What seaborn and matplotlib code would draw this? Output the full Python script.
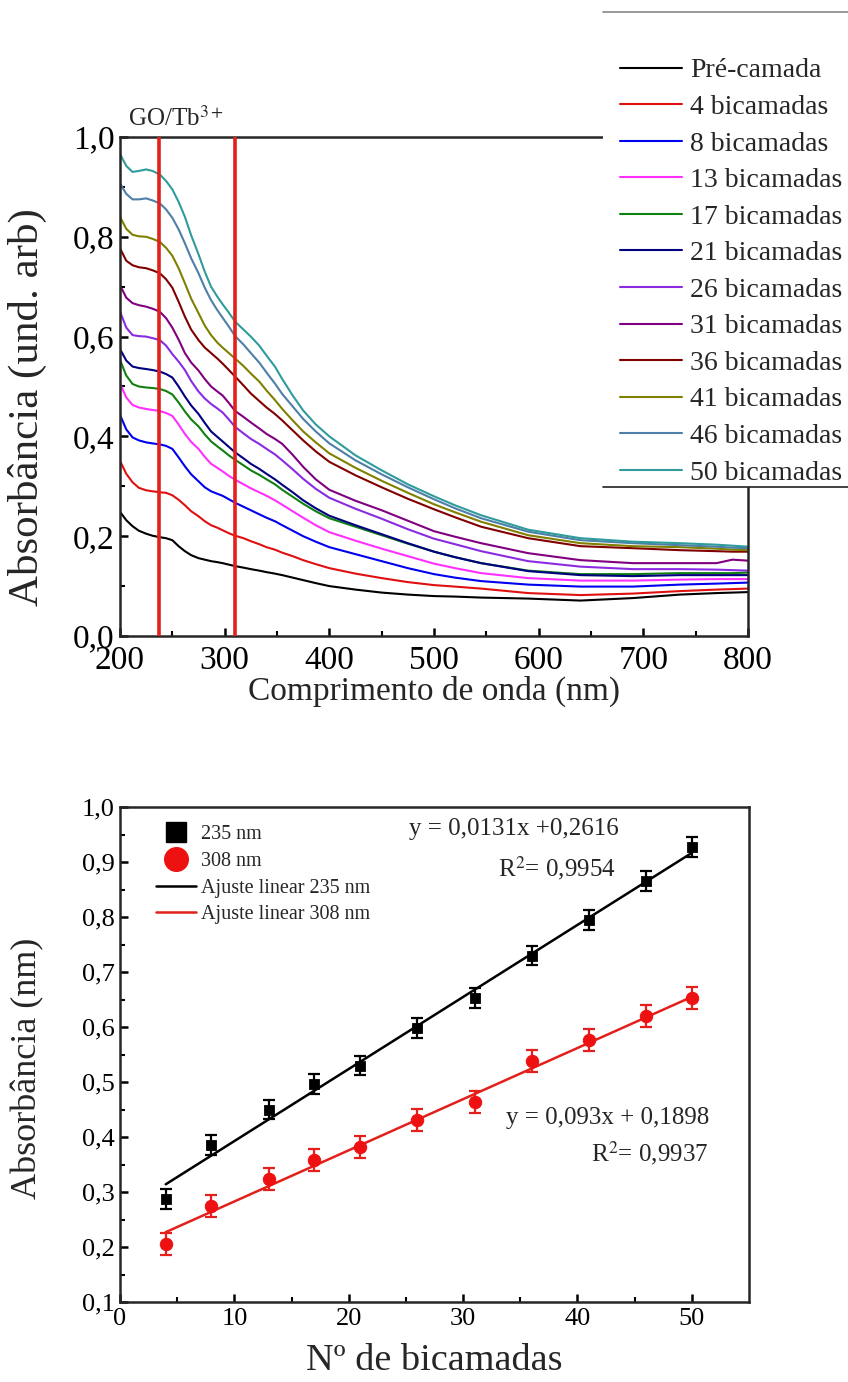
import numpy as np
import pandas as pd
import matplotlib
matplotlib.use("Agg")
import matplotlib.pyplot as plt
from matplotlib.lines import Line2D
from matplotlib.patches import Rectangle
import seaborn as sns

# ---------------- UV-Vis spectra of the GO/Tb3+ LbL films ----------------
wavelength = [200, 206, 212, 218, 225, 231, 238,
              244, 250, 256, 262, 268, 275, 281,
              287, 293, 298, 304, 310, 318, 325,
              333, 340, 348, 355, 365, 375, 387,
              400, 425, 450, 475, 500, 520, 545,
              590, 640, 690, 735, 770, 785, 800]

abs_pre = [0.249, 0.232, 0.220, 0.211, 0.205, 0.201, 0.198,
           0.196, 0.192, 0.180, 0.170, 0.162, 0.156, 0.153,
           0.150, 0.148, 0.146, 0.143, 0.140, 0.137, 0.134,
           0.131, 0.128, 0.125, 0.122, 0.117, 0.112, 0.106,
           0.100, 0.093, 0.087, 0.083, 0.080, 0.079, 0.077,
           0.075, 0.071, 0.076, 0.083, 0.086, 0.087, 0.088]
abs_4 = [0.351, 0.325, 0.308, 0.297, 0.292, 0.290, 0.288,
         0.287, 0.282, 0.273, 0.262, 0.250, 0.240, 0.230,
         0.222, 0.217, 0.212, 0.206, 0.201, 0.196, 0.190,
         0.184, 0.178, 0.173, 0.167, 0.160, 0.152, 0.144,
         0.136, 0.125, 0.116, 0.108, 0.102, 0.099, 0.095,
         0.086, 0.082, 0.085, 0.090, 0.093, 0.094, 0.095]
abs_8 = [0.443, 0.414, 0.398, 0.392, 0.388, 0.386, 0.384,
         0.381, 0.375, 0.358, 0.340, 0.324, 0.310, 0.298,
         0.290, 0.285, 0.281, 0.274, 0.267, 0.259, 0.252,
         0.244, 0.237, 0.230, 0.222, 0.211, 0.200, 0.189,
         0.178, 0.164, 0.150, 0.136, 0.124, 0.117, 0.110,
         0.103, 0.099, 0.099, 0.103, 0.105, 0.106, 0.107]
abs_13 = [0.506, 0.478, 0.463, 0.458, 0.455, 0.453, 0.451,
          0.447, 0.441, 0.424, 0.405, 0.389, 0.375, 0.359,
          0.345, 0.337, 0.330, 0.321, 0.313, 0.304, 0.296,
          0.288, 0.281, 0.272, 0.263, 0.250, 0.237, 0.222,
          0.208, 0.191, 0.175, 0.160, 0.145, 0.136, 0.126,
          0.116, 0.111, 0.111, 0.113, 0.114, 0.114, 0.114]
abs_17 = [0.553, 0.522, 0.505, 0.500, 0.498, 0.497, 0.495,
          0.491, 0.484, 0.468, 0.450, 0.434, 0.420, 0.404,
          0.390, 0.380, 0.372, 0.362, 0.353, 0.342, 0.332,
          0.323, 0.314, 0.304, 0.293, 0.279, 0.265, 0.250,
          0.236, 0.219, 0.202, 0.185, 0.169, 0.158, 0.146,
          0.131, 0.124, 0.124, 0.126, 0.126, 0.126, 0.127]
abs_21 = [0.575, 0.552, 0.540, 0.537, 0.535, 0.533, 0.530,
          0.525, 0.518, 0.500, 0.480, 0.462, 0.445, 0.427,
          0.410, 0.399, 0.390, 0.379, 0.368, 0.356, 0.345,
          0.335, 0.325, 0.314, 0.303, 0.288, 0.272, 0.256,
          0.241, 0.222, 0.204, 0.186, 0.169, 0.158, 0.146,
          0.130, 0.122, 0.120, 0.122, 0.122, 0.122, 0.122]
abs_26 = [0.650, 0.618, 0.603, 0.601, 0.600, 0.597, 0.593,
          0.582, 0.565, 0.550, 0.533, 0.511, 0.490, 0.476,
          0.465, 0.456, 0.448, 0.434, 0.419, 0.406, 0.395,
          0.385, 0.375, 0.364, 0.352, 0.334, 0.315, 0.295,
          0.277, 0.255, 0.235, 0.214, 0.195, 0.184, 0.170,
          0.150, 0.139, 0.134, 0.134, 0.133, 0.132, 0.131]
abs_31 = [0.703, 0.678, 0.667, 0.663, 0.660, 0.656, 0.650,
          0.637, 0.618, 0.594, 0.567, 0.548, 0.532, 0.515,
          0.500, 0.490, 0.482, 0.467, 0.451, 0.439, 0.428,
          0.416, 0.405, 0.395, 0.385, 0.363, 0.339, 0.314,
          0.293, 0.271, 0.252, 0.231, 0.210, 0.199, 0.186,
          0.166, 0.152, 0.146, 0.146, 0.146, 0.153, 0.151]
abs_36 = [0.777, 0.752, 0.743, 0.739, 0.737, 0.733, 0.727,
          0.715, 0.698, 0.670, 0.640, 0.614, 0.593, 0.578,
          0.567, 0.556, 0.546, 0.533, 0.520, 0.502, 0.486,
          0.471, 0.458, 0.445, 0.432, 0.412, 0.392, 0.370,
          0.349, 0.322, 0.298, 0.275, 0.254, 0.238, 0.219,
          0.196, 0.180, 0.176, 0.172, 0.170, 0.169, 0.169]
abs_41 = [0.840, 0.816, 0.804, 0.801, 0.800, 0.796, 0.790,
          0.778, 0.762, 0.737, 0.707, 0.676, 0.647, 0.622,
          0.603, 0.588, 0.578, 0.567, 0.556, 0.541, 0.526,
          0.510, 0.492, 0.473, 0.455, 0.432, 0.410, 0.388,
          0.366, 0.337, 0.311, 0.287, 0.264, 0.248, 0.229,
          0.202, 0.186, 0.180, 0.178, 0.175, 0.173, 0.172]
abs_46 = [0.907, 0.886, 0.875, 0.875, 0.877, 0.873, 0.867,
          0.855, 0.838, 0.815, 0.787, 0.757, 0.727, 0.698,
          0.673, 0.653, 0.638, 0.620, 0.601, 0.584, 0.567,
          0.548, 0.528, 0.506, 0.485, 0.460, 0.435, 0.410,
          0.386, 0.352, 0.324, 0.298, 0.274, 0.256, 0.236,
          0.209, 0.192, 0.186, 0.182, 0.179, 0.177, 0.176]
abs_50 = [0.966, 0.942, 0.930, 0.932, 0.935, 0.932, 0.925,
          0.912, 0.895, 0.870, 0.840, 0.803, 0.765, 0.730,
          0.700, 0.680, 0.665, 0.648, 0.630, 0.614, 0.600,
          0.582, 0.562, 0.540, 0.515, 0.482, 0.452, 0.424,
          0.400, 0.362, 0.332, 0.304, 0.280, 0.262, 0.242,
          0.213, 0.196, 0.189, 0.186, 0.183, 0.181, 0.179]

series_labels = ["Pré-camada", "4 bicamadas", "8 bicamadas", "13 bicamadas", "17 bicamadas",
                 "21 bicamadas", "26 bicamadas", "31 bicamadas", "36 bicamadas",
                 "41 bicamadas", "46 bicamadas", "50 bicamadas"]
series_values = [abs_pre, abs_4, abs_8, abs_13, abs_17, abs_21, abs_26, abs_31,
                 abs_36, abs_41, abs_46, abs_50]
series_colors = ["#000000", "#e01010", "#0000f0", "#ff30ff", "#108010", "#000080",
                 "#8a2be2", "#800080", "#800000", "#808000", "#4d7fa8", "#2f9b9b"]

marker_lines = [237, 310]          # wavelengths highlighted in the spectra

# ---------------- absorbance vs number of bilayers ----------------
bilayers = [4, 8, 13, 17, 21, 26, 31, 36, 41, 46, 50]
abs_235 = [0.288, 0.385, 0.450, 0.497, 0.530, 0.598, 0.653, 0.730, 0.795, 0.866, 0.927]
abs_308 = [0.206, 0.274, 0.323, 0.359, 0.382, 0.431, 0.463, 0.539, 0.576, 0.620, 0.652]
err_235 = [0.018] * 11
err_308 = [0.020] * 11
fit_235 = (0.0131, 0.2616)         # slope, intercept
fit_308 = (0.0093, 0.1898)

# ---------------- style ----------------
sns.set_style("ticks")
plt.rcParams["font.family"] = ["Liberation Serif", "DejaVu Serif"]
plt.rcParams["mathtext.fontset"] = "stix"
plt.rcParams["axes.linewidth"] = 1.8
for ax_name in ("xtick", "ytick"):
    plt.rcParams[f"{ax_name}.direction"] = "in"
    plt.rcParams[f"{ax_name}.major.width"] = 1.8
    plt.rcParams[f"{ax_name}.minor.width"] = 1.5
    plt.rcParams[f"{ax_name}.major.size"] = 6
    plt.rcParams[f"{ax_name}.minor.size"] = 3.5
    plt.rcParams[f"{ax_name}.color"] = "black"

W, H = 848, 1382
fig = plt.figure(figsize=(W / 100, H / 100), dpi=100)
ax1 = fig.add_axes([120 / W, 1 - 636 / H, 628 / W, 499 / H])
ax2 = fig.add_axes([120 / W, 1 - 1302 / H, 629 / W, 495 / H])


def comma(v, _pos, nd=1):
    return f"{v:.{nd}f}".replace(".", ",")


# ---- top panel: spectra ----
spec = pd.DataFrame({
    "wl": np.tile(wavelength, len(series_labels)),
    "A": np.concatenate(series_values),
    "serie": np.repeat(series_labels, len(wavelength)),
})
sns.lineplot(data=spec, x="wl", y="A", hue="serie", hue_order=series_labels,
             palette=dict(zip(series_labels, series_colors)), linewidth=1.5,
             ax=ax1, legend="full", sort=False)
for wl in marker_lines:
    ax1.axvline(wl, color="#e3201b", linewidth=2.6, zorder=5)

ax1.set_xlim(200, 800)
ax1.set_ylim(0, 1.0)
ax1.set_xticks(np.arange(200, 801, 100))
ax1.set_xticks(np.arange(250, 800, 100), minor=True)
ax1.set_yticks(np.arange(0, 1.01, 0.2))
ax1.set_yticks(np.arange(0.1, 1.0, 0.2), minor=True)
ax1.yaxis.set_major_formatter(matplotlib.ticker.FuncFormatter(comma))
ax1.tick_params(labelsize=24, pad=4)
ax1.tick_params(axis="x", pad=7)
ax1.set_xlabel("Comprimento de onda (nm)", fontsize=24, labelpad=0)
ax1.set_ylabel("Absorbância (und. arb)", fontsize=31)
ax1.yaxis.set_label_coords(-0.116, 0.458)
ax1.text(0.013, 1.012, "GO/Tb$^{3+}$", transform=ax1.transAxes, fontsize=18,
         ha="left", va="bottom")

# white block holding the legend, drawn over the upper-right corner of the frame
fig.add_artist(Rectangle((603 / W, 1 - 487 / H), (W - 603) / W, 475 / H,
                         transform=fig.transFigure, facecolor="white",
                         edgecolor="none", zorder=4))
fig.add_artist(Line2D([603 / W, 1], [1 - 12 / H] * 2, color="#888888",
                      linewidth=1.2, transform=fig.transFigure, zorder=5))
fig.add_artist(Line2D([603 / W, 1], [1 - 487 / H] * 2, color="#222222",
                      linewidth=1.2, transform=fig.transFigure, zorder=5))

handles, labels = ax1.get_legend_handles_labels()
for h in handles:
    h.set_linewidth(1.5)
if ax1.get_legend():
    ax1.get_legend().remove()
leg1 = fig.legend(handles, labels, loc="upper left",
                  bbox_to_anchor=(620 / W, 1 - 58 / H), bbox_transform=fig.transFigure,
                  fontsize=20, frameon=False, handlelength=2.23,
                  handletextpad=0.29, labelspacing=0.40, borderpad=0, borderaxespad=0)
leg1.set_zorder(6)

# ---- bottom panel: linear growth ----
growth = pd.DataFrame({"n": bilayers, "a235": abs_235, "a308": abs_308})
xfit = np.array([bilayers[0], bilayers[-1]])
fits = pd.DataFrame({
    "n": np.concatenate([xfit, xfit]),
    "A": np.concatenate([fit_235[0] * xfit + fit_235[1], fit_308[0] * xfit + fit_308[1]]),
    "fit": ["235"] * 2 + ["308"] * 2,
})
sns.lineplot(data=fits, x="n", y="A", hue="fit", palette={"235": "black", "308": "#e3201b"},
             linewidth=1.8, ax=ax2, legend=False)
ax2.errorbar(bilayers, abs_235, yerr=err_235, fmt="none", ecolor="black",
             elinewidth=1.6, capsize=4, capthick=1.6, zorder=3)
ax2.errorbar(bilayers, abs_308, yerr=err_308, fmt="none", ecolor="#e3201b",
             elinewidth=1.6, capsize=4, capthick=1.6, zorder=3)
sns.scatterplot(data=growth, x="n", y="a235", marker="s", s=55, color="black",
                edgecolor="black", ax=ax2, zorder=4)
sns.scatterplot(data=growth, x="n", y="a308", marker="o", s=80, color="#ee1111",
                edgecolor="#ee1111", ax=ax2, zorder=4)

ax2.set_xlim(0, 55)
ax2.set_ylim(0.1, 1.0)
ax2.set_xticks(np.arange(0, 51, 10))
ax2.set_xticks(np.arange(5, 55, 10), minor=True)
ax2.set_yticks(np.arange(0.1, 1.01, 0.1))
ax2.set_yticks(np.arange(0.15, 1.0, 0.1), minor=True)
ax2.yaxis.set_major_formatter(matplotlib.ticker.FuncFormatter(comma))
ax2.tick_params(labelsize=19, pad=4)
ax2.set_xlabel("Nº de bicamadas", fontsize=27.5, labelpad=10)
ax2.set_ylabel("Absorbância (nm)", fontsize=26)
ax2.yaxis.set_label_coords(-0.121, 0.473)

leg_handles = [
    Line2D([], [], linestyle="none", marker="s", markersize=15, color="black"),
    Line2D([], [], linestyle="none", marker="o", markersize=17, color="#ee1111"),
    Line2D([], [], color="black", linewidth=1.8),
    Line2D([], [], color="#e3201b", linewidth=1.8),
]
ax2.legend(leg_handles, ["235 nm", "308 nm", "Ajuste linear 235 nm", "Ajuste linear 308 nm"],
           loc="upper left", bbox_to_anchor=(0.028, 1.0), frameon=False, fontsize=14.5,
           handlelength=2.0, handletextpad=0.25, labelspacing=0.38)

ax2.text(0.459, 0.955, "y = 0,0131x +0,2616", transform=ax2.transAxes, fontsize=18,
         ha="left", va="center")
ax2.text(0.788, 0.876, "R$^2$= 0,9954", transform=ax2.transAxes, fontsize=18,
         ha="right", va="center")
ax2.text(0.937, 0.372, "y = 0,093x + 0,1898", transform=ax2.transAxes, fontsize=18,
         ha="right", va="center")
ax2.text(0.935, 0.300, "R$^2$= 0,9937", transform=ax2.transAxes, fontsize=18,
         ha="right", va="center")

fig.savefig("out.png", dpi=100)
